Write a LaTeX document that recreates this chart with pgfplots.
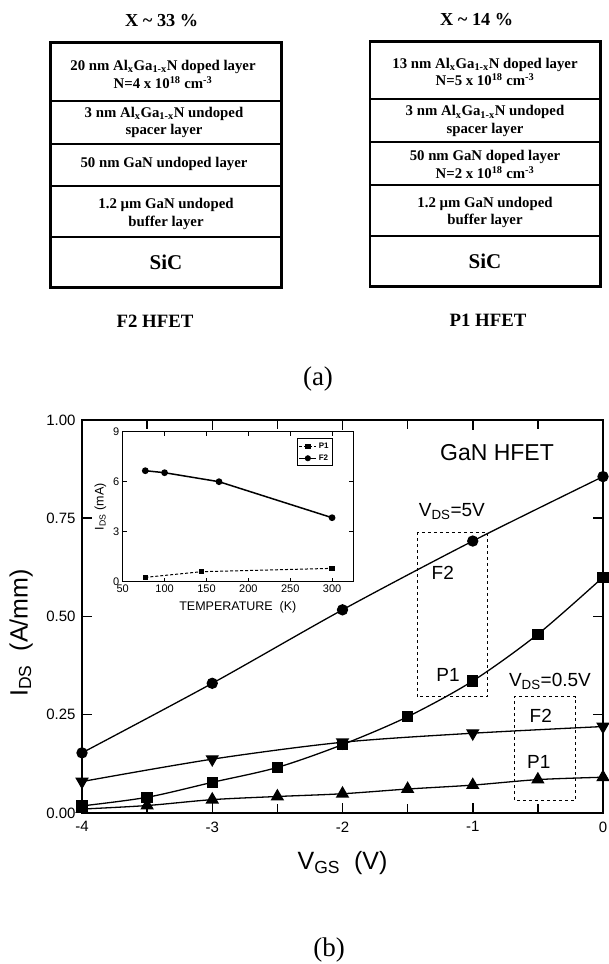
\documentclass[border=0pt]{standalone}
\usepackage{fontspec}
\setmainfont{Liberation Serif}
\newfontfamily\plotfont{Liberation Sans}
\usepackage{pgfplots}
\pgfplotsset{compat=1.18}
\usetikzlibrary{plotmarks}
\begin{document}
\begin{tikzpicture}[x=1pt,y=1pt]
\path[use as bounding box] (0,0) rectangle (608,964);
% ---------- (a) layer stacks ----------
\tikzset{lay/.style={font=\bfseries\fontsize{14.8}{17.6}\selectfont, align=center, inner sep=0pt}}
% left stack (pixel Y -> 964-Y)
\draw[line width=2.5pt] (50.7,964-42.7) rectangle (281.7,964-287.3);
\foreach \yy in {100.7,144,186,237.3} \draw[line width=2pt] (50.7,964-\yy) -- (281.7,964-\yy);
\node[font=\bfseries\fontsize{18.3}{20}\selectfont] at (161.7,964-20.7) {X \textasciitilde{} 33 \%};
\node[lay] at (163,964-74.5) {20 nm Al\textsubscript{x}Ga\textsubscript{1-x}N doped layer\\N=4 x 10\textsuperscript{18} cm\textsuperscript{-3}};
\node[lay] at (164,964-122.3) {3 nm Al\textsubscript{x}Ga\textsubscript{1-x}N undoped\\spacer layer};
\node[lay] at (164,964-164.3) {50 nm GaN undoped layer};
\node[lay] at (166,964-214) {1.2 µm GaN undoped\\buffer layer};
\node[font=\bfseries\fontsize{21}{24}\selectfont] at (166,964-262.7) {SiC};
\node[font=\bfseries\fontsize{18.8}{20}\selectfont] at (155,964-321.7) {F2 HFET};
% right stack
\draw[line width=2.5pt] (370,964-41.7) rectangle (600.7,964-286.7);
\foreach \yy in {99,141.7,185,236} \draw[line width=2pt] (370,964-\yy) -- (600.7,964-\yy);
\node[font=\bfseries\fontsize{18.3}{20}\selectfont] at (476.7,964-20) {X \textasciitilde{} 14 \%};
\node[lay] at (485,964-72) {13 nm Al\textsubscript{x}Ga\textsubscript{1-x}N doped layer\\N=5 x 10\textsuperscript{18} cm\textsuperscript{-3}};
\node[lay] at (485,964-121.2) {3 nm Al\textsubscript{x}Ga\textsubscript{1-x}N undoped\\spacer layer};
\node[lay] at (485,964-164.5) {50 nm GaN doped layer\\N=2 x 10\textsuperscript{18} cm\textsuperscript{-3}};
\node[lay] at (485,964-212.3) {1.2 µm GaN undoped\\buffer layer};
\node[font=\bfseries\fontsize{21}{24}\selectfont] at (485,964-261.7) {SiC};
\node[font=\bfseries\fontsize{18.8}{20}\selectfont] at (488,964-320) {P1 HFET};
\node[font=\fontsize{27}{30}\selectfont] at (318,964-379) {(a)};
\node[font=\fontsize{27}{30}\selectfont] at (329,964-950) {(b)};
% ---------- (b) main axis ----------
\begin{axis}[
  at={(82pt,151pt)}, anchor=south west,
  scale only axis, width=521pt, height=393pt,
  xmin=-4, xmax=0, ymin=0, ymax=1,
  clip=false,
  xtick={-4,-3,-2,-1,0}, minor xtick={-3.5,-2.5,-1.5,-0.5},
  ytick={0,0.25,0.5,0.75,1},
  yticklabel style={/pgf/number format/fixed, /pgf/number format/fixed zerofill, /pgf/number format/precision=2, xshift=-3pt},
  /pgf/number format/assume math mode=true,
  tick align=inside, major tick length=10pt, minor tick length=9pt,
  axis line style={line width=2pt},
  every tick/.style={line width=1.5pt, black},
  ticklabel style={font=\plotfont\fontsize{15}{17}\selectfont},
  xticklabel style={yshift=-5pt},
  xlabel={V\textsubscript{GS}\ \ (V)}, ylabel={I\textsubscript{DS}\ \ (A/mm)},
  label style={font=\plotfont\fontsize{25}{28}\selectfont},
  x label style={at={(axis description cs:0.5,-0.127)}, anchor=center},
  y label style={at={(axis description cs:-0.117,0.458)}, anchor=center},
]
\addplot[black, line width=1.3pt, smooth, mark=*, mark size=5pt] coordinates {
(-4,0.153) (-3,0.330) (-2,0.517) (-1,0.692) (0,0.856)};
\addplot[black, line width=1.3pt, smooth, mark=square*, mark size=5pt] coordinates {
(-4,0.018) (-3.5,0.040) (-3,0.078) (-2.5,0.116) (-2,0.174) (-1.5,0.245) (-1,0.336) (-0.5,0.455) (0,0.600)};
\addplot[black, line width=1.3pt, smooth, mark=triangle*, mark size=6.5pt, mark options={rotate=180}] coordinates {
(-4,0.080) (-3,0.137) (-2,0.180) (-1,0.203) (0,0.220)};
\addplot[black, line width=1.3pt, smooth, mark=triangle*, mark size=6.5pt] coordinates {
(-4,0.010) (-3.5,0.019) (-3,0.034) (-2.5,0.042) (-2,0.049) (-1.5,0.061) (-1,0.071) (-0.5,0.085) (0,0.091)};
\draw[dashed, line width=1pt] (axis cs:-1.422,0.296) rectangle (axis cs:-0.886,0.713);
\draw[dashed, line width=1pt] (axis cs:-0.68,0.033) rectangle (axis cs:-0.21,0.296);
\begin{scope}[font=\plotfont\fontsize{19}{21}\selectfont]
\node at (axis cs:-1.16,0.767) {V\textsubscript{DS}=5V};
\node at (axis cs:-1.23,0.611) {F2};
\node at (axis cs:-1.19,0.351) {P1};
\node at (axis cs:-0.407,0.334) {V\textsubscript{DS}=0.5V};
\node at (axis cs:-0.478,0.247) {F2};
\node at (axis cs:-0.493,0.130) {P1};
\end{scope}
\node[font=\plotfont\fontsize{23}{25}\selectfont] at (axis cs:-0.814,0.917) {GaN HFET};
\end{axis}
% ---------- inset ----------
\begin{axis}[
  at={(122.7pt,382.3pt)}, anchor=south west,
  scale only axis, width=230.3pt, height=150pt,
  xmin=50, xmax=325, ymin=0, ymax=9,
  xtick={50,100,...,300}, ytick={0,3,6,9},
  /pgf/number format/assume math mode=true,
  tick align=inside, major tick length=4pt,
  axis line style={line width=1pt},
  every tick/.style={line width=0.8pt, black},
  axis background/.style={fill=white},
  ticklabel style={font=\plotfont\fontsize{11}{13}\selectfont},
  xlabel={TEMPERATURE\ \ (K)}, ylabel={I\textsubscript{DS} (mA)},
  label style={font=\plotfont\fontsize{12.5}{14}\selectfont},
  x label style={yshift=-2pt},
  legend style={at={(0.913,0.956)}, anchor=north east, font=\plotfont\bfseries\fontsize{8}{9}\selectfont,
    draw=black, line width=0.8pt, inner sep=2pt, row sep=1pt},
  legend cell align=left,
  legend image post style={line width=0.8pt},
]
\addplot[black, line width=1pt, densely dashed, mark=square*, mark size=2.2pt, mark options={solid}] coordinates {
(77,0.26) (144,0.60) (300,0.80)};
\addlegendentry{P1}
\addplot[black, line width=1.5pt, mark=*, mark size=2.6pt] coordinates {
(77,6.66) (100,6.54) (165,6.00) (300,3.84)};
\addlegendentry{F2}
\end{axis}
\end{tikzpicture}
\end{document}
